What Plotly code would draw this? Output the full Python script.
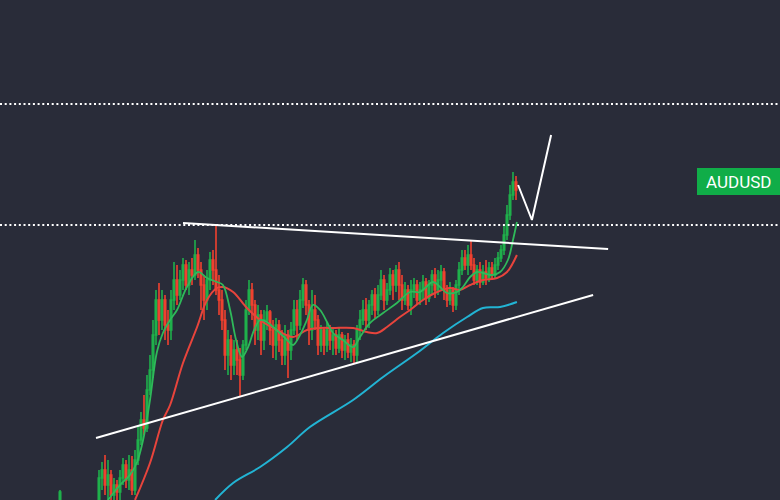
import plotly.graph_objects as go

# ---- candle data (arbitrary price units) ----
idx = list(range(153))
opens = [-5, -15, -20, -28, -22, -15, -25, -35, -30, -25, -18, -12, -8,
         0, 22, 30, 15, 25, 5, 15, 8, 22, 35, 20, 30, 10, 40, 60, 80, 72, 110, 130, 165, 200, 180, 200, 175, 170, 200, 220,
         205, 220, 235, 215, 230, 225, 245, 230, 215, 200, 220, 240, 230, 210, 200, 180, 145, 160, 135, 150,
         140, 125, 155, 190, 210, 195, 170, 185, 160, 180, 188, 170, 155, 175, 160, 145, 165, 150, 170, 190,
         175, 200, 215, 195, 170, 190, 180, 155, 170, 155, 170, 160, 165, 152, 165, 150, 160, 148, 155, 145,
         170, 180, 190, 180, 195, 205, 190, 205, 220, 200, 210, 225, 215, 230, 215, 200, 210, 195, 210, 215,
         200, 210, 218, 202, 215, 225, 210, 220, 228, 210, 200, 210, 195, 215, 230, 242, 235, 245, 235, 220,
         230, 218, 228, 222, 232, 225, 235, 242, 250, 265, 285, 305, 318]
highs = [10, -5, -12, -18, -10, -8, -15, -25, -20, -12, -6, -3, -2,
         30, 38, 45, 40, 30, 22, 20, 30, 42, 40, 45, 44, 50, 75, 88, 105, 125, 145, 180, 210, 217, 210, 205, 190, 210, 238, 235,
         230, 242, 240, 238, 242, 260, 252, 238, 225, 230, 248, 250, 275, 225, 210, 190, 170, 165, 160, 160,
         152, 160, 200, 220, 217, 200, 195, 190, 190, 195, 190, 180, 182, 180, 170, 175, 170, 178, 200, 200,
         210, 222, 220, 200, 210, 205, 185, 175, 173, 178, 175, 172, 170, 172, 168, 165, 167, 162, 160, 175,
         190, 200, 202, 200, 210, 212, 215, 230, 225, 217, 232, 230, 235, 238, 225, 218, 215, 220, 222, 220,
         218, 225, 222, 220, 230, 232, 230, 235, 232, 215, 218, 213, 220, 238, 250, 250, 255, 260, 242, 235,
         238, 235, 240, 238, 238, 242, 248, 255, 275, 295, 315, 328, 324]
lows = [-10, -30, -35, -40, -30, -32, -40, -45, -38, -30, -25, -22, -20,
        -5, 10, 5, 0, -5, -10, -2, 0, 15, 12, 10, 5, 5, 35, 55, 65, 68, 105, 122, 155, 165, 170, 160, 155, 160, 190, 195,
        200, 210, 210, 205, 215, 220, 222, 190, 180, 190, 210, 215, 205, 185, 170, 130, 125, 120, 125, 125,
        104, 120, 150, 185, 180, 155, 160, 145, 150, 170, 155, 142, 140, 148, 135, 135, 122, 140, 165, 160,
        170, 192, 185, 155, 160, 170, 145, 148, 145, 148, 150, 145, 145, 147, 142, 140, 142, 138, 137, 138,
        160, 175, 170, 172, 185, 182, 185, 200, 190, 195, 205, 200, 208, 200, 190, 195, 190, 185, 202, 195,
        195, 200, 195, 198, 205, 202, 205, 210, 200, 193, 195, 188, 190, 205, 225, 230, 225, 230, 215, 215,
        212, 215, 215, 218, 220, 222, 230, 238, 245, 260, 280, 300, 300]
closes = [8, -20, -28, -22, -15, -25, -35, -30, -25, -18, -12, -8, -5,
          22, 30, 15, 25, 5, 15, 8, 22, 35, 20, 30, 10, 40, 60, 80, 72, 110, 130, 165, 200, 180, 200, 175, 170, 200, 220, 205,
          220, 235, 215, 230, 225, 245, 230, 215, 200, 220, 240, 230, 210, 200, 180, 145, 160, 135, 150, 140,
          125, 155, 190, 210, 195, 170, 185, 160, 180, 188, 170, 155, 175, 160, 145, 165, 150, 170, 190, 175,
          200, 215, 195, 170, 190, 180, 155, 170, 155, 170, 160, 165, 152, 165, 150, 160, 148, 155, 145, 170,
          180, 190, 180, 195, 205, 190, 205, 220, 200, 210, 225, 215, 230, 215, 200, 210, 195, 210, 215, 200,
          210, 218, 202, 215, 225, 210, 220, 228, 210, 200, 210, 195, 215, 230, 242, 235, 245, 235, 220, 230,
          218, 228, 222, 232, 225, 235, 242, 250, 265, 285, 305, 318, 310]

# ---- moving averages (bar index, level) ----
ma_fast_x = [16, 20, 23.3, 25.7, 27.7, 30, 32.3, 34.3, 36.7, 39, 42.3, 46, 49, 52.3, 54.3, 56.7, 58.7, 60.7, 62.7, 64.7,
             66.7, 69, 71, 73.3, 75.7, 77.7, 80, 82.3, 84.3, 86.7, 89, 91, 94.3, 97.7, 100, 103.3, 107.7, 112.3, 116.7,
             120, 124.3, 126.7, 129, 132.3, 134.3, 136.7, 139, 141, 144, 146.7, 149.3, 151, 152.3]
ma_fast_y = [0, 15, 25, 38, 60, 100, 148, 167, 180, 190, 213, 228, 222, 218, 215, 190, 160, 143, 153, 170,
             180, 178, 173, 167, 160, 155, 165, 180, 195, 190, 178, 167, 160, 153, 163, 177, 187, 197, 208,
             208, 218, 213, 207, 208, 213, 223, 228, 227, 225, 228, 240, 260, 278]
ma_mid_x = [25, 30, 34.3, 36.7, 41, 45.7, 49, 52.3, 54.3, 57.7, 62.3, 66.7, 72.3, 77.7, 82.3, 86.7, 91, 97.7, 102.3,
            105.7, 109, 113.3, 116.7, 121, 125.7, 130, 133.3, 136.7, 141, 145.7, 149, 152.3]
ma_mid_y = [0, 37, 80, 95, 137, 173, 200, 212, 213, 208, 192, 180, 170, 163, 170, 172, 172, 172, 168,
            167, 173, 183, 190, 200, 208, 212, 210, 215, 220, 222, 228, 245]
ma_slow_x = [51.7, 57.7, 66.7, 75.7, 83.3, 97.7, 107.7, 119, 127.7, 135.7, 141, 146.7, 152.3]
ma_slow_y = [0, 17, 33, 53, 73, 100, 123, 147, 167, 183, 192, 193, 198]

# ---- drawings ----
resist_x = [41, 182.7]
resist_y = [277, 251]
support_x = [12, 177.7]
support_y = [62, 205]
path_x = [152.7, 157.3, 163.7]
path_y = [315, 280, 365]
dotted_levels = [396, 275]
symbol = "AUDUSD"
symbol_level = 318.5
symbol_box = [305, 332]

BG = "#292c39"
fig = go.Figure()
fig.add_trace(go.Candlestick(
    x=idx, open=opens, high=highs, low=lows, close=closes,
    increasing=dict(line=dict(color="#1fb04b", width=1.6), fillcolor="#1fb04b"),
    decreasing=dict(line=dict(color="#f0412f", width=1.6), fillcolor="#f0412f"),
    whiskerwidth=0, hoverinfo="skip", showlegend=False))
fig.add_trace(go.Scatter(x=ma_slow_x, y=ma_slow_y, mode="lines", line=dict(color="#22b4d4", width=2, shape="spline"),
                         showlegend=False, hoverinfo="skip"))
fig.add_trace(go.Scatter(x=ma_mid_x, y=ma_mid_y, mode="lines", line=dict(color="#e8443c", width=2, shape="spline"),
                         showlegend=False, hoverinfo="skip"))
fig.add_trace(go.Scatter(x=ma_fast_x, y=ma_fast_y, mode="lines", line=dict(color="#2fb95a", width=1.8, shape="spline"),
                         showlegend=False, hoverinfo="skip"))
for xs, ys in [(resist_x, resist_y), (support_x, support_y), (path_x, path_y)]:
    fig.add_trace(go.Scatter(x=xs, y=ys, mode="lines", line=dict(color="#ffffff", width=2),
                             showlegend=False, hoverinfo="skip"))
for lv in dotted_levels:
    fig.add_shape(type="line", xref="paper", x0=0, x1=1, yref="y", y0=lv, y1=lv,
                  line=dict(color="#ffffff", width=2, dash="2px,2.7px"))
fig.add_shape(type="rect", xref="paper", x0=697 / 780, x1=1, yref="y", y0=symbol_box[0], y1=symbol_box[1],
              fillcolor="#10ad48", line=dict(width=0))
fig.add_annotation(x=(697 + 780) / 2 / 780, xref="paper", xanchor="center", y=symbol_level, yref="y",
                   yanchor="middle", text=symbol, showarrow=False,
                   font=dict(family="Roboto, sans-serif", size=17, color="#ffffff"))
fig.update_layout(
    width=780, height=500, margin=dict(l=0, r=0, t=0, b=0),
    paper_bgcolor=BG, plot_bgcolor=BG,
    xaxis=dict(range=[-20, 240], visible=False, rangeslider=dict(visible=False), fixedrange=True),
    yaxis=dict(range=[0, 500], visible=False, fixedrange=True),
)
fig.write_html("out.html", config={"displayModeBar": False},
               post_script="document.body.style.margin='0';document.body.style.background='%s';" % BG)
